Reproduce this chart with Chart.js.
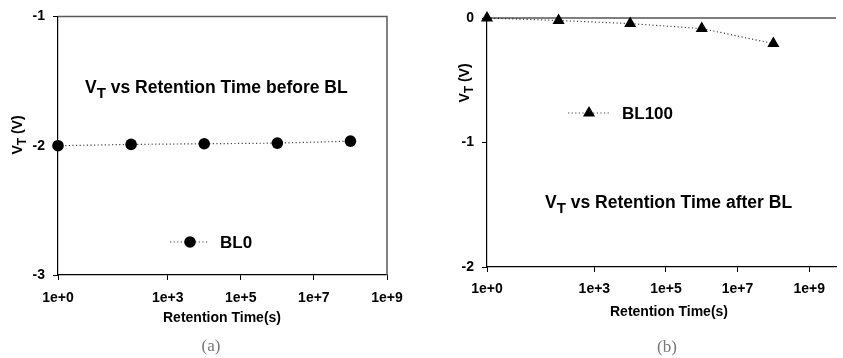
<!DOCTYPE html>
<html>
<head>
<meta charset="utf-8">
<script src="https://cdn.jsdelivr.net/npm/chart.js@4.4.1/dist/chart.umd.min.js"></script>
<style>
  body { margin: 0; background: #fff; }
  .wrap { position: relative; width: 843px; height: 358px; overflow: hidden; }
  canvas { position: absolute; top: 0; }
  #chartA { left: 0; }
  #chartB { left: 420px; }
  .cap { position: absolute; font-family: "Liberation Serif", "DejaVu Serif", serif; font-size: 17px; color: #777; transform: translate(-50%, -50%); }
</style>
</head>
<body>
<div class="wrap">
  <canvas id="chartA" width="420" height="358"></canvas>
  <canvas id="chartB" width="423" height="358"></canvas>
  <div class="cap" style="left:211px; top:346px;">(a)</div>
  <div class="cap" style="left:667px; top:347px;">(b)</div>
</div>
<script>
// retention times (s) and threshold voltages
const timesS = [1, 1e2, 1e4, 1e6, 1e8];
const vtBL0 = [-2.0, -1.99, -1.985, -1.98, -1.965];
const vtBL100 = [0, -0.02, -0.045, -0.085, -0.205];

const xTickValues = [1, 1e3, 1e5, 1e7, 1e9];
const xTickLabels = ["1e+0", "1e+3", "1e+5", "1e+7", "1e+9"];
const yTicksA = [-3, -2, -1];
const yTicksB = [-2, -1, 0];

const FONT = "'Liberation Sans', Arial, sans-serif";

// draws "V" + subscript "T" + rest, starting at x (left), baseline y
function drawVT(ctx, x, y, size, rest) {
    ctx.font = "bold " + size + "px " + FONT;
    ctx.textBaseline = "alphabetic";
    ctx.textAlign = "left";
    ctx.fillText("V", x, y);
    let w = ctx.measureText("V").width;
    const sub = Math.round(size * 0.85);
    ctx.font = "bold " + sub + "px " + FONT;
    ctx.fillText("T", x + w, y + size * 0.3);
    w += ctx.measureText("T").width;
    ctx.font = "bold " + size + "px " + FONT;
    ctx.fillText(rest, x + w, y);
    return w + ctx.measureText(rest).width;
}

function vtWidth(ctx, size, rest) {
    ctx.font = "bold " + size + "px " + FONT;
    let w = ctx.measureText("V").width + ctx.measureText(rest).width;
    ctx.font = "bold " + Math.round(size * 0.85) + "px " + FONT;
    return w + ctx.measureText("T").width;
}

function drawMarker(ctx, style, r, x, y) {
    ctx.beginPath();
    if (style === "circle") {
        ctx.arc(x, y, r, 0, Math.PI * 2);
    } else {
        let rad = 0;
        ctx.moveTo(x + Math.sin(rad) * r, y - Math.cos(rad) * r);
        rad += Math.PI * 2 / 3;
        ctx.lineTo(x + Math.sin(rad) * r, y - Math.cos(rad) * r);
        rad += Math.PI * 2 / 3;
        ctx.lineTo(x + Math.sin(rad) * r, y - Math.cos(rad) * r);
        ctx.closePath();
    }
    ctx.fill();
}

const decor = {
    id: "decor",
    afterDraw(chart, args, o) {
        const ctx = chart.ctx;
        const a = chart.chartArea;
        ctx.save();
        // frame
        if (o.box === "full") {
            ctx.strokeStyle = "#5a5a5a";
            ctx.lineWidth = 1.5;
            ctx.beginPath();
            ctx.moveTo(a.left, a.top);
            ctx.lineTo(a.right, a.top);
            ctx.lineTo(a.right, a.bottom);
            ctx.stroke();
        } else {
            ctx.strokeStyle = "#000";
            ctx.lineWidth = 1.2;
            ctx.beginPath();
            ctx.moveTo(a.left, a.top);
            ctx.lineTo(a.right, a.top);
            ctx.stroke();
        }
        ctx.fillStyle = "#000";
        // x axis title
        ctx.font = "bold 14px " + FONT;
        ctx.textAlign = "center";
        ctx.textBaseline = "middle";
        ctx.fillText("Retention Time(s)", o.xTitle[0], o.xTitle[1]);
        // y axis title, rotated
        ctx.save();
        ctx.translate(o.yTitle[0], o.yTitle[1]);
        ctx.rotate(-Math.PI / 2);
        const yw = vtWidth(ctx, 14, " (V)");
        drawVT(ctx, -yw / 2, 5, 14, " (V)");
        ctx.restore();
        // chart title
        drawVT(ctx, o.title[0], o.title[1], 17.5, o.titleText);
        // legend
        const ds = chart.data.datasets[0];
        ctx.strokeStyle = ds.borderColor;
        ctx.lineWidth = ds.borderWidth;
        ctx.setLineDash(ds.borderDash);
        ctx.beginPath();
        ctx.moveTo(o.legend[0], o.legend[3]);
        ctx.lineTo(o.legend[1], o.legend[3]);
        ctx.stroke();
        ctx.setLineDash([]);
        ctx.fillStyle = "#000";
        drawMarker(ctx, ds.pointStyle, ds.pointRadius, o.legend[2], o.legend[3]);
        ctx.font = "bold 17px " + FONT;
        ctx.textAlign = "left";
        ctx.textBaseline = "middle";
        ctx.fillText(ds.label, o.legend[4], o.legend[3] + 1);
        ctx.restore();
    }
};

function makeChart(id, cfg) {
    return new Chart(document.getElementById(id), {
        type: "line",
        data: {
            labels: timesS,
            datasets: [{
                label: cfg.label,
                data: timesS.map((t, i) => ({x: t, y: cfg.values[i]})),
                borderColor: "#444",
                borderWidth: 1.2,
                borderDash: [1.2, 2.4],
                pointStyle: cfg.pointStyle,
                pointRadius: cfg.pointRadius,
                pointBackgroundColor: "#000",
                pointBorderWidth: 0,
                clip: false,
                tension: 0
            }]
        },
        options: {
            responsive: false,
            animation: false,
            devicePixelRatio: 1,
            layout: { padding: cfg.padding },
            plugins: {
                legend: { display: false },
                tooltip: { enabled: false },
                decor: cfg.decor
            },
            scales: {
                x: {
                    type: "logarithmic",
                    min: 1,
                    max: cfg.xMax,
                    afterBuildTicks: s => { s.ticks = xTickValues.map(v => ({value: v})); },
                    afterFit: s => { s.height = cfg.xAxisHeight; },
                    ticks: {
                        autoSkip: false,
                        maxRotation: 0,
                        padding: cfg.xTickPad,
                        color: "#000",
                        font: { family: FONT, size: 14, weight: "bold" },
                        callback: (v) => xTickLabels[xTickValues.indexOf(v)]
                    },
                    grid: { drawOnChartArea: false, drawTicks: true, tickLength: 5, color: "#000", lineWidth: 1 },
                    border: { display: true, color: "#000", width: 1.2 }
                },
                y: {
                    min: cfg.yTicks[0],
                    max: cfg.yTicks[cfg.yTicks.length - 1],
                    afterBuildTicks: s => { s.ticks = cfg.yTicks.map(v => ({value: v})); },
                    afterFit: s => { s.width = cfg.yAxisWidth; },
                    ticks: {
                        padding: 8,
                        color: "#000",
                        font: { family: FONT, size: 14, weight: "bold" },
                        callback: v => String(v)
                    },
                    grid: { drawOnChartArea: false, drawTicks: true, tickLength: 5, color: "#000", lineWidth: 1 },
                    border: { display: true, color: "#000", width: 1.2 }
                }
            }
        },
        plugins: [decor]
    });
}

makeChart("chartA", {
    label: "BL0",
    values: vtBL0,
    pointStyle: "circle",
    pointRadius: 5.8,
    xMax: 1e9,
    yTicks: yTicksA,
    padding: { left: 0, right: 33, top: 16, bottom: 0 },
    yAxisWidth: 58,
    xAxisHeight: 358 - 16 - 259,
    xTickPad: 10,
    decor: {
        box: "full",
        xTitle: [222, 318],
        yTitle: [17, 135],
        title: [85, 93],
        titleText: " vs Retention Time before BL",
        legend: [170, 208, 190, 242, 220]
    }
});

makeChart("chartB", {
    label: "BL100",
    values: vtBL100,
    pointStyle: "triangle",
    pointRadius: 7,
    xMax: Math.pow(10, 9.75),
    yTicks: yTicksB,
    padding: { left: 0, right: 0, top: 18, bottom: 0 },
    yAxisWidth: 67,
    xAxisHeight: 358 - 267,
    xTickPad: 9,
    decor: {
        box: "top",
        xTitle: [249, 312],
        yTitle: [44, 83],
        title: [125, 208],
        titleText: " vs Retention Time after BL",
        legend: [148, 190, 169, 113, 202]
    }
});
</script>
</body>
</html>
